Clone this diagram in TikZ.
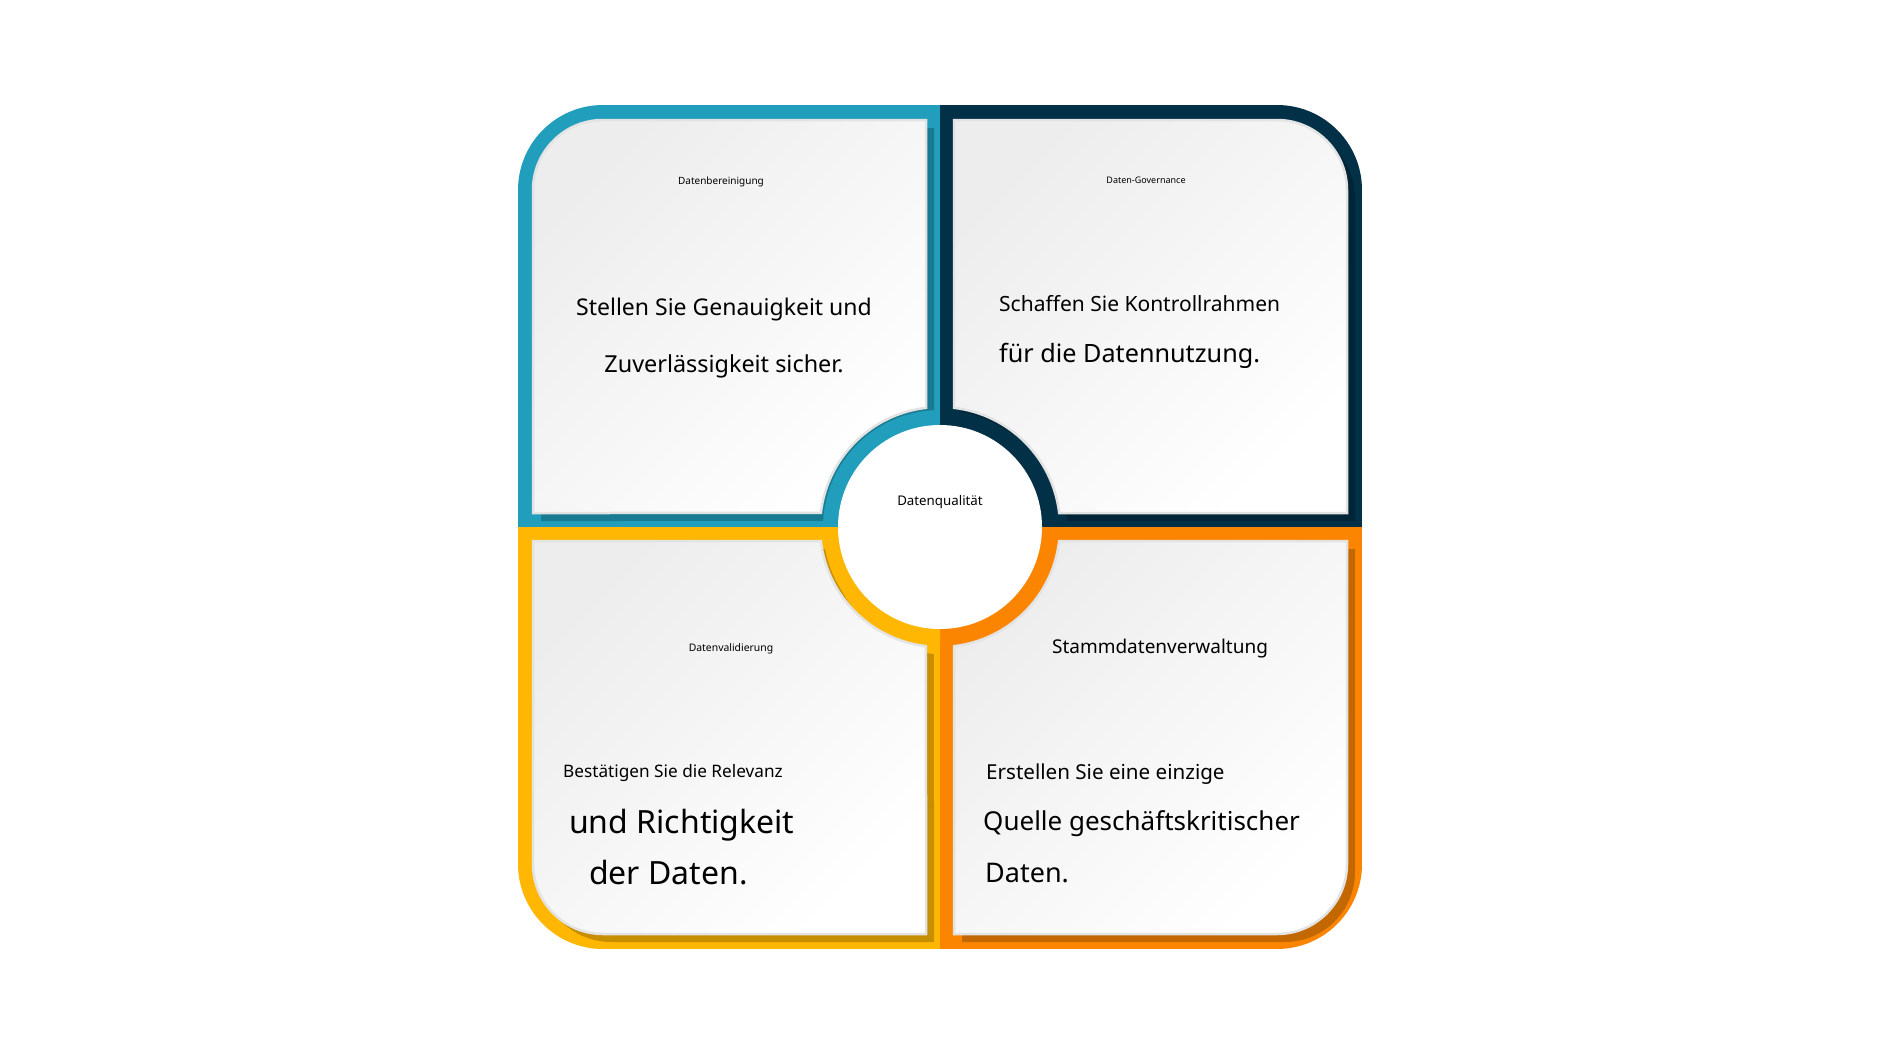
\documentclass[tikz,border=0pt]{standalone}
\usepackage{fontspec}
\setmainfont{Noto Sans}
\usetikzlibrary{calc}
\definecolor{cteal}{HTML}{219EBC}
\definecolor{cnavy}{HTML}{023047}
\definecolor{cyellow}{HTML}{FFB703}
\definecolor{corange}{HTML}{FB8500}
\newcommand{\fs}[1]{\fontsize{#1}{#1}\selectfont}
\tikzset{
  cardfill/.style={top color=black!7, bottom color=white, shading angle=45},
  cardedge/.style={draw=black!11, line width=2.5pt},
  cardshadow/.style={fill=black, fill opacity=0.22},
  txt/.style={inner sep=0pt, text=black},
}
\begin{document}
\begin{tikzpicture}[x=1pt, y=-1pt]
\useasboundingbox (0,0) rectangle (1884,1060);
\fill[white] (0,0) rectangle (1884,1060);
% outer frame, four colours
\begin{scope}
  \clip[rounded corners=85pt] (518,105) rectangle (1362,949);
  \fill[cteal]   (518,105) rectangle (940,527);
  \fill[cnavy]   (940,105) rectangle (1362,527);
  \fill[cyellow] (518,527) rectangle (940,949);
  \fill[corange] (940,527) rectangle (1362,949);
\end{scope}
% card paths
\def\cardTL{(533,190) arc[start angle=180,end angle=270,radius=70] -- (926,120) -- (926,407.82) arc[start angle=263.29,end angle=186.71,radius=120] -- (533,513) -- cycle}
\def\cardTR{(954,120) -- (1277,120) arc[start angle=270,end angle=360,radius=70] -- (1347,513) -- (1059.18,513) arc[start angle=353.29,end angle=276.71,radius=120] -- cycle}
\def\cardBL{(533,541) -- (820.82,541) arc[start angle=173.29,end angle=96.71,radius=120] -- (926,934) -- (603,934) arc[start angle=90,end angle=180,radius=70] -- cycle}
\def\cardBR{(954,646.18) arc[start angle=83.29,end angle=6.71,radius=120] -- (1347,541) -- (1347,864) arc[start angle=0,end angle=90,radius=70] -- (954,934) -- cycle}
% shadows
\begin{scope}[shift={(8,8)}]
  \fill[cardshadow] \cardTL;
  \fill[cardshadow] \cardTR;
  \fill[cardshadow] \cardBL;
  \fill[cardshadow] \cardBR;
\end{scope}
% cards
\path[cardfill, cardedge] \cardTL;
\path[cardfill, cardedge] \cardTR;
\path[cardfill, cardedge] \cardBL;
\path[cardfill, cardedge] \cardBR;
% central ring
\coordinate (C) at (940,527);
\fill[cteal]   (C) -- +(180:117) arc[start angle=180,end angle=270,radius=117] -- cycle;
\fill[cnavy]   (C) -- +(270:117) arc[start angle=270,end angle=360,radius=117] -- cycle;
\fill[corange] (C) -- +(0:117) arc[start angle=0,end angle=90,radius=117] -- cycle;
\fill[cyellow] (C) -- +(90:117) arc[start angle=90,end angle=180,radius=117] -- cycle;
\node[circle, fill=white, minimum size=204pt, inner sep=0pt] (hub) at (C) {};
\node[txt, anchor=base] (hubtxt) at (940,505) {\fs{13.3}Datenqualität};
% top-left
\node[txt, anchor=base] (t1) at (721,184) {\fs{10}Datenbereinigung};
\node[txt, anchor=base] (t1a) at (724,315) {\fs{23}Stellen Sie Genauigkeit und};
\node[txt, anchor=base] (t1b) at (724,372) {\fs{23.4}Zuverlässigkeit sicher.};
% top-right
\node[txt, anchor=base] (t2) at (1146,183) {\fs{9}Daten-Governance};
\node[txt, anchor=base west] (t2a) at (999,311) {\fs{21}Schaffen Sie Kontrollrahmen};
\node[txt, anchor=base west] (t2b) at (999,362) {\fs{25.2}für die Datennutzung.};
% bottom-left
\node[txt, anchor=base] (t3) at (731,651) {\fs{10.4}Datenvalidierung};
\node[txt, anchor=base west] (t3a) at (563,777) {\fs{17.2}Bestätigen Sie die Relevanz};
\node[txt, anchor=base west] (t3b) at (569,833) {\fs{32}und Richtigkeit};
\node[txt, anchor=base west] (t3c) at (589,884) {\fs{32}der Daten.};
% bottom-right
\node[txt, anchor=base] (t4) at (1160,653) {\fs{19}Stammdatenverwaltung};
\node[txt, anchor=base west] (t4a) at (986,779) {\fs{20.6}Erstellen Sie eine einzige};
\node[txt, anchor=base west] (t4b) at (983,830) {\fs{26}Quelle geschäftskritischer};
\node[txt, anchor=base west] (t4c) at (985,882) {\fs{27}Daten.};
\end{tikzpicture}
\end{document}
